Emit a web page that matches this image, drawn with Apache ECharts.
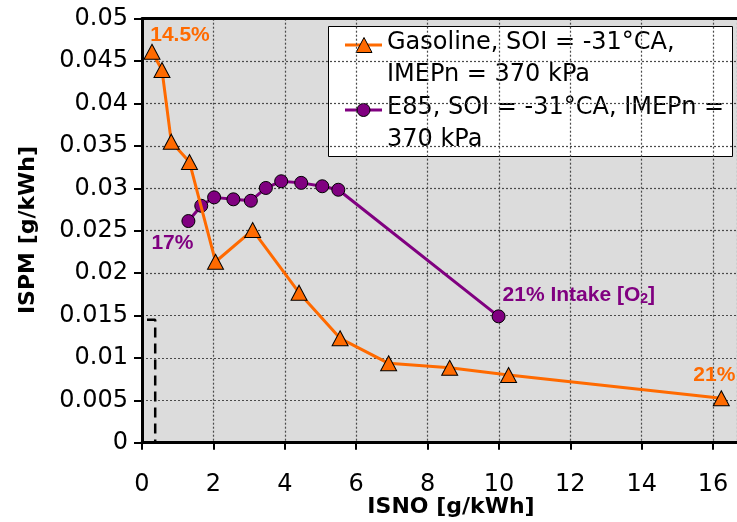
<!DOCTYPE html>
<html>
<head>
<meta charset="utf-8">
<script src="https://cdn.jsdelivr.net/npm/echarts@6/dist/echarts.min.js"></script>
<style>
  html, body { margin: 0; padding: 0; background: #ffffff; }
  #chart { width: 737px; height: 522px; }
</style>
</head>
<body>
<div id="chart"></div>
<script>
// Indicated specific NOx vs. particulate matter over an intake-oxygen sweep
const gasolineIsno = [0.28, 0.56, 0.82, 1.33, 2.06, 3.10, 4.40, 5.55, 6.91, 8.62, 10.27, 16.23];
const gasolineIspm = [0.0461, 0.04395, 0.0355, 0.0331, 0.02134, 0.02508, 0.01769, 0.01231, 0.00936, 0.00884, 0.00798, 0.00524];

const e85Isno = [1.30, 1.66, 2.02, 2.56, 3.05, 3.47, 3.90, 4.46, 5.05, 5.50, 9.99];
const e85Ispm = [0.02614, 0.02794, 0.02893, 0.0287, 0.02853, 0.03004, 0.03083, 0.03064, 0.03024, 0.02983, 0.0149];

// dashed limit bracket near the origin
const limitIsno = [0.14, 0.37, 0.37];
const limitIspm = [0.0145, 0.0145, 0];

const seriesNames = ['Gasoline, SOI = -31°CA, IMEPn = 370 kPa', 'E85, SOI = -31°CA, IMEPn = 370 kPa'];
const legendLines = [
  ['Gasoline, SOI = -31°CA,', 'IMEPn = 370 kPa'],
  ['E85, SOI = -31°CA, IMEPn =', '370 kPa']
];
const xTitle = 'ISNO [g/kWh]';
const yTitle = 'ISPM [g/kWh]';
const gasolineTags = { 0: '14.5%', 11: '21%' };
const e85Tags = { 0: '17%', 10: '21% Intake [O{sub|2}]' };

const ORANGE = '#ff6a00';
const PURPLE = '#800080';
const AXIS_FONT = '"DejaVu Sans", sans-serif';
const TAG_FONT = '"Liberation Sans", Arial, sans-serif';

const tagStyle = {
  gasoline: {
    0: { offset: [28, -17], align: 'center' },
    11: { offset: [-7, -23], align: 'center' }
  },
  e85: {
    0: { offset: [-16, 22], align: 'center' },
    10: { offset: [4, -21], align: 'left' }
  }
};

function buildData(xs, ys, tags, styles, color) {
  return xs.map((x, i) => {
    const item = { value: [x, ys[i]] };
    if (tags[i] !== undefined) {
      item.label = {
        show: true,
        position: 'inside',
        formatter: tags[i],
        offset: styles[i].offset,
        align: styles[i].align,
        verticalAlign: 'middle',
        color: color,
        fontFamily: TAG_FONT,
        fontWeight: 'bold',
        fontSize: 21,
        rich: {
          sub: { fontSize: 14, fontWeight: 'bold', color: color, fontFamily: TAG_FONT, verticalAlign: 'bottom', padding: [8, 0, 0, 0] }
        }
      };
    }
    return item;
  });
}

const chart = echarts.init(document.getElementById('chart'), null, { renderer: 'canvas' });

const legendGraphic = {
  type: 'group',
  silent: true,
  children: [
    { type: 'rect', shape: { x: 328.5, y: 26.5, width: 404, height: 130 }, style: { fill: '#ffffff', stroke: '#000000', lineWidth: 1 } },
    { type: 'line', shape: { x1: 345, y1: 45, x2: 382, y2: 45 }, style: { stroke: ORANGE, lineWidth: 3 } },
    { type: 'polygon', shape: { points: [[356, 52.5], [372, 52.5], [364, 37.5]] }, style: { fill: ORANGE, stroke: '#000000', lineWidth: 1 } },
    { type: 'text', x: 387, y: 27, style: { text: legendLines[0].join('\n'), font: '24px "DejaVu Sans", sans-serif', lineHeight: 32, fill: '#000000', verticalAlign: 'top' } },
    { type: 'line', shape: { x1: 345, y1: 110, x2: 382, y2: 110 }, style: { stroke: PURPLE, lineWidth: 3 } },
    { type: 'circle', shape: { cx: 363.5, cy: 110, r: 6.5 }, style: { fill: PURPLE, stroke: '#000000', lineWidth: 1 } },
    { type: 'text', x: 387, y: 92, style: { text: legendLines[1].join('\n'), font: '24px "DejaVu Sans", sans-serif', lineHeight: 32, fill: '#000000', verticalAlign: 'top' } }
  ]
};

const option = {
  backgroundColor: '#ffffff',
  animation: false,
  grid: {
    left: 142, right: 0, top: 18.7, bottom: 79.3,
    show: true, backgroundColor: '#dcdcdc', borderWidth: 0
  },
  xAxis: [
    {
      type: 'value', min: 0, max: 16.67, interval: 2,
      axisLine: { show: true, onZero: false, lineStyle: { color: '#000000', width: 3 } },
      axisTick: { show: true, length: 7, lineStyle: { color: '#000000', width: 2 } },
      axisLabel: { showMaxLabel: false, margin: 30, color: '#000000', fontFamily: AXIS_FONT, fontSize: 24 },
      splitLine: { show: true, lineStyle: { color: '#4a4a4a', width: 1.2, type: [2, 2] } }
    },
    {
      type: 'value', position: 'top', min: 0, max: 16.67,
      axisLine: { show: true, onZero: false, lineStyle: { color: '#000000', width: 3 } },
      axisTick: { show: false }, axisLabel: { show: false }, splitLine: { show: false }
    }
  ],
  yAxis: {
    type: 'value', min: 0, max: 0.05, interval: 0.005,
    axisLine: { show: true, onZero: false, lineStyle: { color: '#000000', width: 3 } },
    axisTick: { show: true, length: 8, lineStyle: { color: '#000000', width: 2 } },
    axisLabel: {
      margin: 14, color: '#000000', fontFamily: AXIS_FONT, fontSize: 24,
      formatter: v => String(parseFloat(v.toFixed(3)))
    },
    splitLine: { show: true, lineStyle: { color: '#4a4a4a', width: 1.2, type: [2, 2] } }
  },
  graphic: [
    legendGraphic,
    { type: 'text', x: 451, y: 507.5, silent: true, style: { text: xTitle, font: 'bold 22px "DejaVu Sans", sans-serif', fill: '#000000', align: 'center', verticalAlign: 'middle' } },
    { type: 'text', x: 28, y: 230, rotation: Math.PI / 2, silent: true, style: { text: yTitle, font: 'bold 22px "DejaVu Sans", sans-serif', fill: '#000000', align: 'center', verticalAlign: 'middle' } }
  ],
  series: [
    {
      name: seriesNames[1],
      type: 'line', z: 3,
      data: buildData(e85Isno, e85Ispm, e85Tags, tagStyle.e85, PURPLE),
      symbol: 'circle', symbolSize: 13,
      lineStyle: { color: PURPLE, width: 3 },
      itemStyle: { color: PURPLE, borderColor: '#000000', borderWidth: 1 }
    },
    {
      name: seriesNames[0],
      type: 'line', z: 4,
      data: buildData(gasolineIsno, gasolineIspm, gasolineTags, tagStyle.gasoline, ORANGE),
      symbol: 'triangle', symbolSize: [16, 15],
      lineStyle: { color: ORANGE, width: 3 },
      itemStyle: { color: ORANGE, borderColor: '#000000', borderWidth: 1 }
    },
    {
      name: 'limit',
      type: 'line', z: 2, silent: true,
      data: limitIsno.map((x, i) => [x, limitIspm[i]]),
      symbol: 'none',
      lineStyle: { color: '#000000', width: 2.5, type: [10, 6] }
    }
  ]
};

chart.setOption(option);
</script>
</body>
</html>
